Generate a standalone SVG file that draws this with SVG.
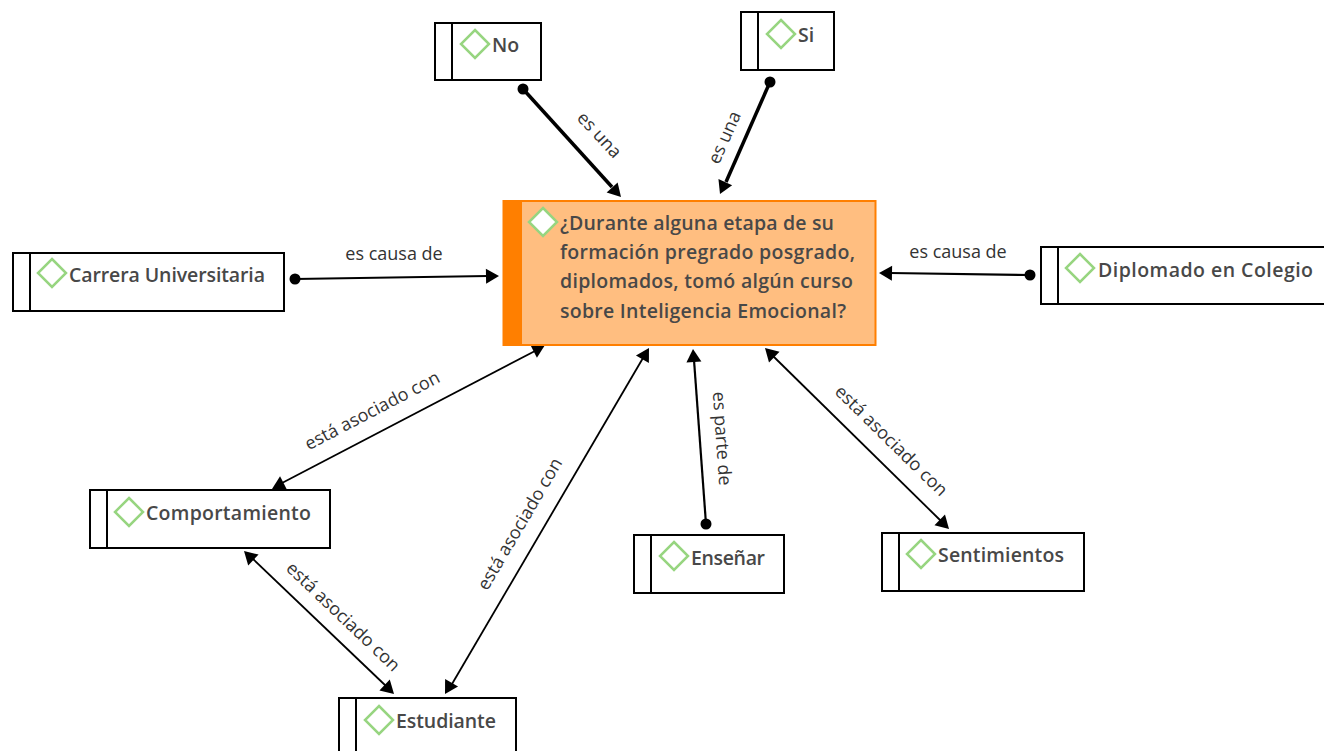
<svg xmlns="http://www.w3.org/2000/svg" width="1324" height="751" viewBox="0 0 1324 751">
<style>
.box{fill:#fff;stroke:#000;stroke-width:2}
.dia{fill:#fff;stroke:#97d580;stroke-width:2.5}
.t{font-family:"Open Sans","Noto Sans",sans-serif;font-size:19.5px;font-weight:600;fill:#484848}
.l{font-family:"Open Sans","Noto Sans",sans-serif;font-size:18px;fill:#333;text-anchor:middle}
.thick{stroke:#000;stroke-width:3.5;fill:none}
.mid{stroke:#000;stroke-width:2.2;fill:none}
.thin{stroke:#000;stroke-width:1.8;fill:none}
</style>
<defs>
<path id="d" d="M0-14L14 0L0 14L-14 0Z" class="dia"/>
<path id="a" d="M0 0L-13-7.500V7.500Z" fill="#000"/>
</defs>
<rect width="1324" height="751" fill="#fff"/>
<g id="connectors">
<path class="thick" d="M523 89L612 187"/><use href="#a" transform="translate(621 197) rotate(47)"/><circle cx="523" cy="89" r="5.5"/>
<path class="thick" d="M770 82L726 182"/><use href="#a" transform="translate(720 194) rotate(114)"/><circle cx="770" cy="82" r="5.5"/>
<path class="mid" d="M295 279L488 276"/><use href="#a" transform="translate(499 276) rotate(-1)"/><circle cx="295" cy="279" r="5.5"/>
<path class="mid" d="M1030 275L890 273"/><use href="#a" transform="translate(879 273) rotate(181)"/><circle cx="1030" cy="275" r="5.5"/>
<path class="mid" d="M706 524L694 360"/><use href="#a" transform="translate(693 349) rotate(-94)"/><circle cx="706" cy="524" r="5.5"/>
<path class="thin" d="M282 483L535 351"/><use href="#a" transform="translate(545 345) rotate(-27.5)"/><use href="#a" transform="translate(272 489) rotate(152.5)"/>
<path class="thin" d="M452 684L643 358"/><use href="#a" transform="translate(649 348) rotate(-59.6)"/><use href="#a" transform="translate(445 694) rotate(120.4)"/>
<path class="thin" d="M773 356L941 521"/><use href="#a" transform="translate(765 348) rotate(-135.5)"/><use href="#a" transform="translate(949 529) rotate(44.5)"/>
<path class="thin" d="M252 558L386 686"/><use href="#a" transform="translate(244 551) rotate(-136.3)"/><use href="#a" transform="translate(394 694) rotate(43.7)"/>
<text class="l" transform="translate(595 139) rotate(47)">es una</text>
<text class="l" transform="translate(730 140) rotate(-66)">es una</text>
<text class="l" x="394" y="260">es causa de</text>
<text class="l" x="958" y="258">es causa de</text>
<text class="l" transform="translate(716 439) rotate(86)">es parte de</text>
<text class="l" transform="translate(375 416) rotate(-27.5)">está asociado con</text>
<text class="l" transform="translate(525 527) rotate(-59.6)">está asociado con</text>
<text class="l" transform="translate(887 445) rotate(44.5)">está asociado con</text>
<text class="l" transform="translate(339 621) rotate(43.7)">está asociado con</text>
</g>
<g id="n-no"><rect class="box" x="435" y="23" width="106" height="57"/><path class="box" d="M452 23V80"/><use href="#d" x="475" y="44"/><text class="t" x="492" y="52">No</text></g>
<g id="n-si"><rect class="box" x="741" y="12" width="93" height="58"/><path class="box" d="M758 12V70"/><use href="#d" x="781" y="34"/><text class="t" x="798" y="42">Si</text></g>
<g id="n-carrera"><rect class="box" x="13" y="253" width="271" height="58"/><path class="box" d="M30 253V311"/><use href="#d" x="52" y="273"/><text class="t" x="69" y="282" textLength="196">Carrera Universitaria</text></g>
<g id="n-main"><rect x="503.500" y="201" width="372" height="144" fill="#ffbe80" stroke="#ff7f00" stroke-width="2"/><rect x="503" y="201" width="19" height="144" fill="#ff7f00"/><use href="#d" x="543" y="222"/><text class="t"><tspan x="560" y="230" textLength="274">¿Durante alguna etapa de su</tspan><tspan x="560" y="259" textLength="295">formación pregrado posgrado,</tspan><tspan x="560" y="288" textLength="293">diplomados, tomó algún curso</tspan><tspan x="560" y="318" textLength="286">sobre Inteligencia Emocional?</tspan></text></g>
<g id="n-diplomado"><rect class="box" x="1041" y="247" width="290" height="57"/><path class="box" d="M1058 247V304"/><use href="#d" x="1080" y="268"/><text class="t" x="1098" y="277" textLength="215">Diplomado en Colegio</text></g>
<g id="n-comportamiento"><rect class="box" x="90" y="490" width="240" height="58"/><path class="box" d="M107 490V548"/><use href="#d" x="129" y="512"/><text class="t" x="146" y="520" textLength="165">Comportamiento</text></g>
<g id="n-ensenar"><rect class="box" x="634" y="535" width="150" height="58"/><path class="box" d="M651 535V593"/><use href="#d" x="674" y="556"/><text class="t" x="691" y="565" textLength="74">Enseñar</text></g>
<g id="n-sentimientos"><rect class="box" x="882" y="533" width="202" height="58"/><path class="box" d="M899 533V591"/><use href="#d" x="921" y="554"/><text class="t" x="938" y="562" textLength="126">Sentimientos</text></g>
<g id="n-estudiante"><rect class="box" x="339" y="698" width="177" height="60"/><path class="box" d="M356 698V758"/><use href="#d" x="379" y="720"/><text class="t" x="396" y="728" textLength="100">Estudiante</text></g>
</svg>
